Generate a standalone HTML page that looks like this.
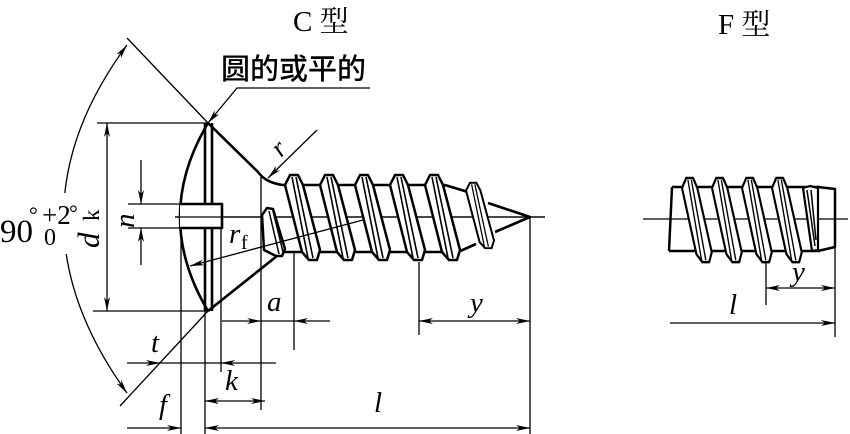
<!DOCTYPE html>
<html><head><meta charset="utf-8"><style>
html,body{margin:0;padding:0;background:#fff;}
svg{display:block;}
text{font-family:"Liberation Serif","Noto Serif CJK SC",serif;fill:#000;}
.i{font-style:italic;}
</style></head><body>
<svg width="850" height="434" viewBox="0 0 850 434" xmlns="http://www.w3.org/2000/svg">
<defs>
<marker id="m" viewBox="0 0 14 6" refX="14" refY="3" markerWidth="14" markerHeight="6" markerUnits="userSpaceOnUse" orient="auto-start-reverse">
<path d="M0,0 L14,3 L0,6 L4,3z" fill="#000"/>
</marker>
<g id="th">
<path d="M0,11 L5,1 L13,1 L18,11 L35,76 L32,86 L24,86 L17,78 Z" fill="#fff" stroke="#000" stroke-width="2.5" stroke-linejoin="round"/>
<path d="M7,3 L23,84 M11,3 L28,84" stroke="#000" stroke-width="1.6" fill="none"/>
</g>
</defs>

<text x="293" y="31" font-size="29">C 型</text>
<text x="718" y="34" font-size="29">F 型</text>
<text x="221" y="79" font-size="29" style="font-family:'Noto Sans CJK SC',sans-serif;font-weight:500">圆的或平的</text>

<g stroke="#000" fill="none" stroke-width="1.3">
<line x1="175" y1="217" x2="545" y2="217"/>
<polyline points="370,88 237,88 208,123" marker-end="url(#m)"/>
<line x1="127" y1="38" x2="208" y2="123"/>
<line x1="208" y1="311" x2="120" y2="406"/>
<path d="M127,45 Q0,217 127,393" marker-start="url(#m)" marker-end="url(#m)"/>
<line x1="97" y1="123" x2="208" y2="123"/>
<line x1="93" y1="311" x2="208" y2="311"/>
<line x1="107" y1="123" x2="107" y2="311" marker-start="url(#m)" marker-end="url(#m)"/>
<line x1="128" y1="204" x2="180" y2="204"/>
<line x1="128" y1="228" x2="180" y2="228"/>
<line x1="141" y1="160" x2="141" y2="204" marker-end="url(#m)"/>
<line x1="141" y1="265" x2="141" y2="228" marker-end="url(#m)"/>
<line x1="317" y1="130" x2="268" y2="178" marker-end="url(#m)"/>
<line x1="181" y1="230" x2="181" y2="434"/>
<line x1="205" y1="311" x2="205" y2="434"/>
<line x1="221" y1="228" x2="221" y2="372"/>
<line x1="261" y1="177" x2="261" y2="410"/>
<line x1="294" y1="252" x2="294" y2="350"/>
<line x1="419" y1="262" x2="419" y2="335"/>
<line x1="530" y1="217" x2="530" y2="434"/>
<line x1="222" y1="321" x2="261" y2="321" marker-end="url(#m)"/>
<line x1="261" y1="321" x2="294" y2="321"/>
<line x1="330" y1="321" x2="294" y2="321" marker-end="url(#m)"/>
<line x1="419" y1="321" x2="530" y2="321" marker-start="url(#m)" marker-end="url(#m)"/>
<line x1="127" y1="363" x2="160" y2="363" marker-end="url(#m)"/>
<line x1="160" y1="363" x2="221" y2="363"/>
<line x1="276" y1="363" x2="221" y2="363" marker-end="url(#m)"/>
<line x1="205" y1="401" x2="265" y2="401" marker-start="url(#m)" marker-end="url(#m)"/>
<line x1="127" y1="428" x2="181" y2="428" marker-end="url(#m)"/>
<line x1="205" y1="428" x2="530" y2="428" marker-start="url(#m)" marker-end="url(#m)"/>
</g>

<rect x="0" y="193" width="78" height="61" fill="#fff"/>

<g stroke="#000" fill="none" stroke-width="2.6" stroke-linejoin="round">
<path d="M208,123 Q152,217 208,311"/>
<line x1="205" y1="123" x2="205" y2="311"/>
<line x1="212" y1="123" x2="212" y2="311"/>
<rect x="180" y="204" width="42" height="24" fill="#fff" stroke="none"/>
<polyline points="180,204 222,204 222,228 180,228"/>
<path d="M208,123 L258,172 Q266,183 283,185"/>
<line x1="208" y1="311" x2="282" y2="252"/>
<line x1="283" y1="185" x2="445" y2="185"/>
<line x1="270" y1="252" x2="458" y2="252"/>
<path d="M445,185 L468,192 M488,203 L530,217 L495,232 M458,252 L476,244"/>
</g>
<line x1="175" y1="217" x2="545" y2="217" stroke="#000" stroke-width="1.3"/>

<path d="M262,215 L267,208 L273,209 L285,249 L282,256 L276,256 L264,250 Z" fill="#fff" stroke="#000" stroke-width="2.5" stroke-linejoin="round"/>
<path d="M269,211 L279,254 M273,211 L283,252" stroke="#000" stroke-width="1.5"/>
<use href="#th" x="285" y="174"/>
<use href="#th" x="320" y="174"/>
<use href="#th" x="355" y="174"/>
<use href="#th" x="390" y="174"/>
<use href="#th" x="425" y="174"/>
<use href="#th" transform="translate(466,182) scale(0.8,0.77)"/>
<line x1="363" y1="220" x2="190" y2="266" stroke="#000" stroke-width="1.3" marker-end="url(#m)"/>

<text x="0" y="242" font-size="33">90</text>
<text x="29" y="222" font-size="22">°</text>
<text x="42" y="224" font-size="27">+2</text>
<text x="69" y="220" font-size="22">°</text>
<text x="44" y="245" font-size="24">0</text>
<text class="i" font-size="31" transform="translate(99,248) rotate(-90)">d</text>
<text font-size="23" transform="translate(99,221) rotate(-90)">k</text>
<text class="i" font-size="29" transform="translate(134,228) rotate(-90)">n</text>
<text class="i" font-size="27" transform="translate(281,158) rotate(-45)">r</text>
<text class="i" x="229" y="243" font-size="29">r</text>
<text x="241" y="249" font-size="20">f</text>
<text class="i" x="267" y="311" font-size="29">a</text>
<text class="i" x="470" y="312" font-size="29">y</text>
<text class="i" x="151" y="352" font-size="29">t</text>
<text class="i" x="225" y="390" font-size="29">k</text>
<text class="i" x="159" y="414" font-size="29">f</text>
<text class="i" x="374" y="412" font-size="29">l</text>

<g stroke="#000" fill="none" stroke-width="2.5" stroke-linejoin="round">
<line x1="672" y1="187" x2="820" y2="187"/>
<line x1="669" y1="251" x2="820" y2="251"/>
<line x1="672" y1="187" x2="669" y2="251"/>
<path d="M818,187 L835,189 L835,247 L818,251"/>
</g>
<line x1="643" y1="219" x2="848" y2="219" stroke="#000" stroke-width="1.3"/>
<g transform="translate(682,177) scale(0.85,0.99)"><use href="#th"/></g>
<g transform="translate(712,177) scale(0.85,0.99)"><use href="#th"/></g>
<g transform="translate(742,177) scale(0.85,0.99)"><use href="#th"/></g>
<g transform="translate(772,177) scale(0.85,0.99)"><use href="#th"/></g>
<path d="M803,188 L810,186 L818,188 L818,250 L812,251 Z" fill="#fff" stroke="#000" stroke-width="2.2" stroke-linejoin="round"/>
<path d="M807,190 L815,246 M811,190 L816,240" stroke="#000" stroke-width="1.5"/>
<g stroke="#000" fill="none" stroke-width="1.3">
<line x1="766" y1="262" x2="766" y2="305"/>
<line x1="835" y1="247" x2="835" y2="337"/>
<line x1="766" y1="288" x2="835" y2="288" marker-start="url(#m)" marker-end="url(#m)"/>
<line x1="670" y1="323" x2="835" y2="323" marker-end="url(#m)"/>
</g>
<text class="i" x="792" y="281" font-size="29">y</text>
<text class="i" x="729" y="314" font-size="29">l</text>
</svg>
</body></html>
